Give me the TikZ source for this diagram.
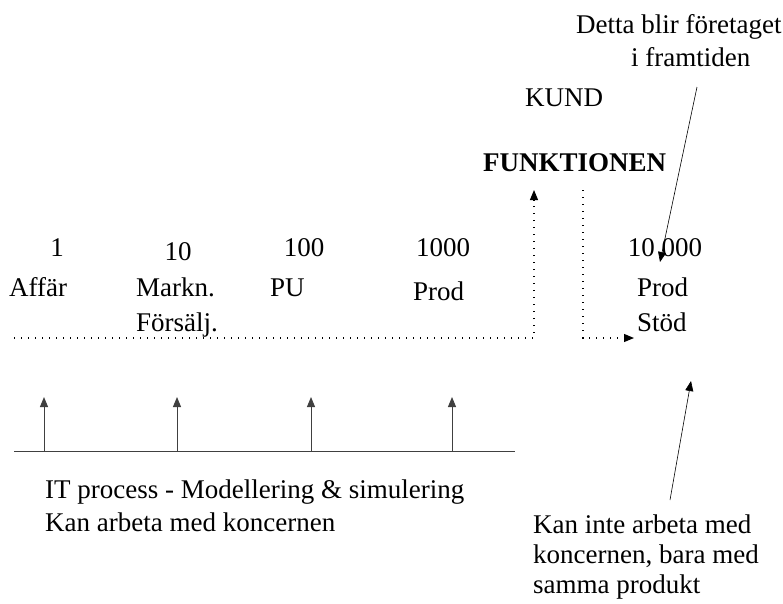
\documentclass[tikz,border=0pt]{standalone}
\usepackage{fontspec}
\setmainfont{Liberation Serif}
\usetikzlibrary{arrows.meta}
\begin{document}
\begin{tikzpicture}[x=1pt,y=-1pt,
  lbl/.style={inner sep=0pt, font=\fontsize{27}{32}\selectfont},
  lblb/.style={inner sep=0pt, font=\fontsize{27}{32}\selectfont\bfseries},
  tip/.style={-{Triangle[length=10pt,width=8pt]}},
  dots/.style={line width=1.1pt, dash pattern=on 1.1pt off 5.9pt},
  axis/.style={line width=1pt, draw=black!75},
  thin/.style={line width=0.6pt}]
\useasboundingbox (0,0) rectangle (783,603);

% headings on the right
\node[lbl, anchor=base west] (detta)   at (576,33)  {Detta blir företaget};
\node[lbl, anchor=base west] (framtid) at (631,66)  {i framtiden};
\node[lbl, anchor=base west] (kund)    at (525,106) {KUND};
\node[lblb, anchor=base west] (funk)   at (483,171) {FUNKTIONEN};

% scale figures
\node[lbl, anchor=base] (n1)     at (57,256)  {1};
\node[lbl, anchor=base] (n10)    at (178,260) {10};
\node[lbl, anchor=base] (n100)   at (304,256) {100};
\node[lbl, anchor=base] (n1000)  at (443,256) {1000};
\node[lbl, anchor=base] (n10000) at (665,256) {10 000};

% function labels
\node[lbl, anchor=base west] (affar)  at (9,296)   {Affär};
\node[lbl, anchor=base west] (markn)  at (136,296) {Markn.};
\node[lbl, anchor=base west] (forsal) at (136,331) {Försälj.};
\node[lbl, anchor=base west] (pu)     at (270,296) {PU};
\node[lbl, anchor=base west] (prod)   at (413,300) {Prod};
\node[lbl, anchor=base west] (prod2)  at (637,296) {Prod};
\node[lbl, anchor=base west] (stod)   at (637,331) {Stöd};

% lower texts
\node[lbl, anchor=base west] (it1) at (45,498) {IT process - Modellering \& simulering};
\node[lbl, anchor=base west] (it2) at (45,531) {Kan arbeta med koncernen};
\node[lbl, anchor=base west] (ki1) at (533,533) {Kan inte arbeta med};
\node[lbl, anchor=base west] (ki2) at (533,563) {koncernen, bara med};
\node[lbl, anchor=base west] (ki3) at (533,593) {samma produkt};

% dotted flows
\coordinate (dstart) at (14,338);
\coordinate (dturn)  at (534,338);
\coordinate (dup)    at (534,190);
\coordinate (rtop)   at (583,190);
\coordinate (rturn)  at (583,338);
\coordinate (rend)   at (634,338);
\draw[dots, tip] (dstart) -- (dturn) -- (dup);
\draw[dots, tip] (rtop) -- (rturn) -- (rend);

% IT process axis with its arrows
\coordinate (ax0) at (14,451);
\coordinate (ax1) at (515,451);
\draw[axis] (ax0) -- (ax1);
\foreach \x [count=\i] in {44,177,311,452} {
  \coordinate (b\i) at (\x,451);
  \coordinate (t\i) at (\x,397);
  \draw[axis, tip] (b\i) -- (t\i);
}

% pointers from the notes
\coordinate (fromtop) at (697,87);
\coordinate (totop)   at (660,262);
\draw[thin, tip] (fromtop) -- (totop);
\coordinate (frombot) at (670,500);
\coordinate (tobot)   at (691,381);
\draw[thin, tip] (frombot) -- (tobot);
\end{tikzpicture}
\end{document}
